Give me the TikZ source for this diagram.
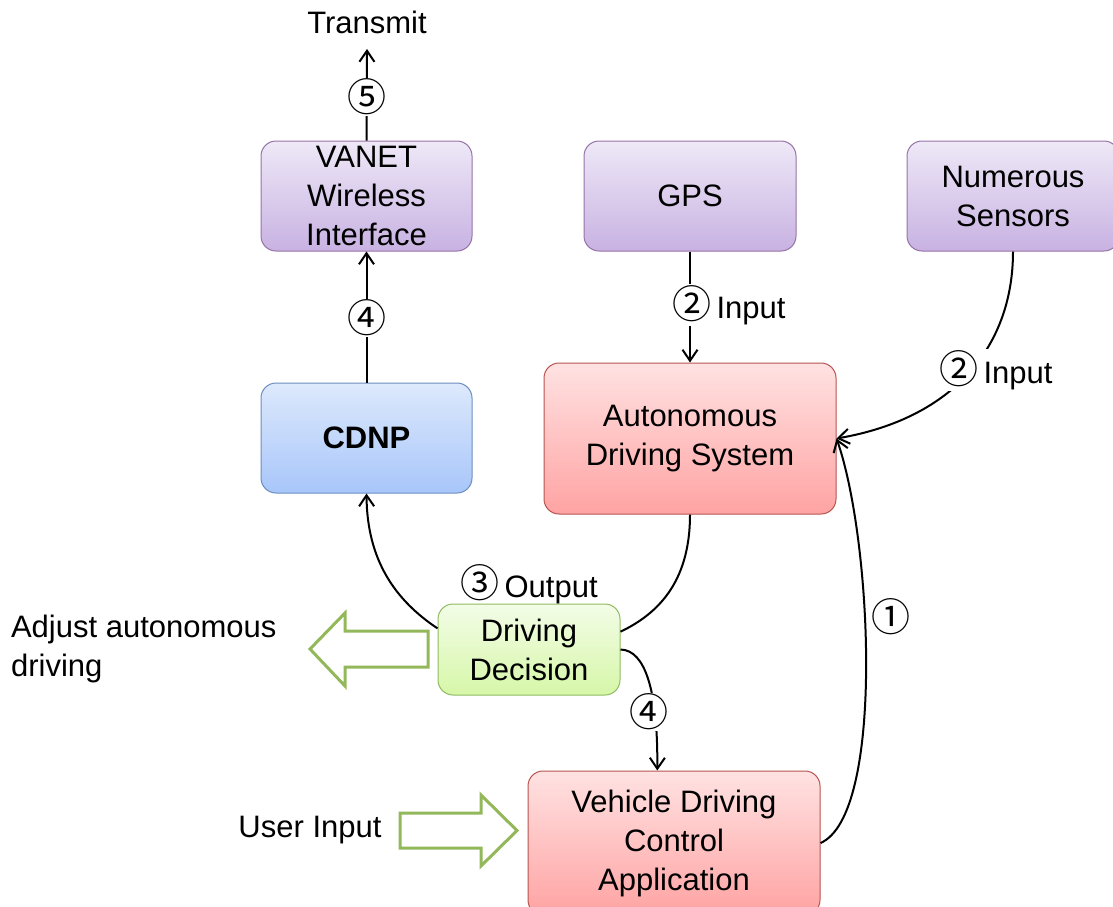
\documentclass[tikz,border=0pt]{standalone}
\usepackage{fontspec}
\setmainfont{Liberation Sans}
\newfontfamily\cjkfont{Noto Sans CJK SC}
\usetikzlibrary{arrows.meta,calc}
\definecolor{ptop}{HTML}{EEE8F7}
\definecolor{pbot}{HTML}{C8B2E2}
\definecolor{pline}{HTML}{9673A6}
\definecolor{rtop}{HTML}{FFE2E2}
\definecolor{rbot}{HTML}{FFA3A3}
\definecolor{rline}{HTML}{B85450}
\definecolor{btop}{HTML}{DDE9FC}
\definecolor{bbot}{HTML}{A8C6FA}
\definecolor{bline}{HTML}{6C8EBF}
\definecolor{gtop}{HTML}{F3FCE7}
\definecolor{gbot}{HTML}{D6F7A8}
\definecolor{gline}{HTML}{8FBB62}
\definecolor{barrow}{HTML}{93B85A}
\newcommand\circnum[1]{{\cjkfont\fontsize{19.5}{19.5}\selectfont #1}}
\begin{document}
\begin{tikzpicture}[x=0.5pt,y=-0.5pt,
  every node/.style={font=\fontsize{15.5}{19.5}\selectfont},
  box/.style={draw, rounded corners=7.5pt, line width=0.5pt, align=center, inner sep=0pt},
  purplebox/.style={box, draw=pline, top color=ptop, bottom color=pbot},
  redbox/.style={box, draw=rline, top color=rtop, bottom color=rbot},
  bluebox/.style={box, draw=bline, top color=btop, bottom color=bbot},
  greenbox/.style={box, draw=gline, top color=gtop, bottom color=gbot},
  conn/.style={line width=1pt, draw=black},
  arr/.style={conn, -{Straight Barb[length=5.5pt,width=7.5pt,line width=1pt]}},
  lbl/.style={fill=white, inner sep=0.5pt},
  blockarrow/.style={draw=barrow, line width=1.5pt, fill=white, line join=miter}
]
\useasboundingbox (0,0) rectangle (1113,906);
\clip (0,0) rectangle (1113,906);

% boxes
\node[purplebox, minimum width=105.5pt, minimum height=55pt] (vanet) at (366.5,196) {VANET\\Wireless\\Interface};
\node[purplebox, minimum width=106pt, minimum height=55pt] (gps) at (690,196) {GPS};
\node[purplebox, minimum width=106pt, minimum height=55pt] (sens) at (1013,196) {Numerous\\Sensors};
\node[redbox, minimum width=146pt, minimum height=75.5pt] (ads) at (690,438.5) {Autonomous\\Driving System};
\node[bluebox, minimum width=105.5pt, minimum height=55pt] (cdnp) at (366.5,438) {\textbf{CDNP}};
\node[greenbox, minimum width=91pt, minimum height=45.5pt] (dd) at (529,649.5) {Driving\\Decision};
\node[redbox, minimum width=146pt, minimum height=72pt] (vdca) at (674,843) {Vehicle Driving\\Control\\Application};

% free texts
\node (transmit) at (367,22) {Transmit};
\coordinate (txin) at (367,49);
\node[align=left, anchor=west] (adjust) at (4,649) {Adjust autonomous\\driving};
\node (user) at (310,830) {User Input};

% block arrows
\draw[blockarrow] (428,631) -- (345,631) -- (345,613) -- (310,649) -- (345,686) -- (345,667) -- (428,667) -- cycle;
\draw[blockarrow] (400,813) -- (481,813) -- (481,795) -- (517,830.5) -- (481,866) -- (481,848) -- (400,848) -- cycle;

% connectors
\draw[arr] (vanet.north) -- (txin);
\node[lbl] (l5) at (367,97) {\circnum{⑤}};

\draw[arr] (cdnp.north) -- (vanet.south);
\node[lbl] (l4a) at (367,318) {\circnum{④}};

\draw[arr] (gps.south) -- (ads.north);
\node[lbl, inner xsep=0pt] (l2a) at (729,305) {\circnum{②}\,Input};

\draw[arr] (sens.south) .. controls (1013,345) and (955,418) .. (ads.east);
\node[lbl, inner xsep=0pt] (l2b) at (996,370) {\circnum{②}\,Input};

\draw[conn] (ads.south) .. controls (690,585) and (655,615) .. (dd.11);

\draw[arr] (dd.167) .. controls (395,600) and (367,560) .. (cdnp.south);
\node (l3) at (529,584) {\circnum{③}\,Output};

\draw[arr] (dd.east) .. controls (645,650) and (658,690) .. (vdca.103);
\node[lbl] (l4b) at (649,712) {\circnum{④}};

\draw[arr] (vdca.east) .. controls (885,815) and (872,540) .. (ads.east);
\node (l1) at (891,617) {\circnum{①}};
\end{tikzpicture}
\end{document}
